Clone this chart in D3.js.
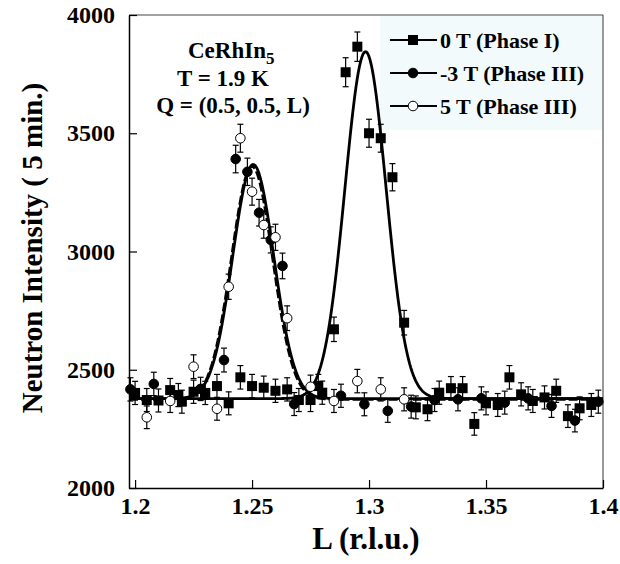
<!DOCTYPE html>
<html>
<head>
<meta charset="utf-8">
<script src="https://cdn.jsdelivr.net/npm/d3@7"></script>
<style>
  html, body { margin: 0; padding: 0; background: #fff; }
  svg text { font-family: "Liberation Serif", "Times New Roman", serif; font-weight: bold; }
</style>
</head>
<body>
<div id="chart"></div>
<script>
// 0 T (Phase I) - squares
const L0 = [1.200, 1.205, 1.210, 1.215, 1.2185, 1.220, 1.225, 1.230, 1.235, 1.240, 1.245, 1.250, 1.255, 1.260, 1.265, 1.270, 1.275, 1.2783, 1.280,
            1.285, 1.290, 1.295, 1.300, 1.305, 1.310, 1.315, 1.320, 1.325, 1.330, 1.335, 1.340, 1.345, 1.350, 1.355, 1.360,
            1.365, 1.370, 1.375, 1.380, 1.385, 1.390, 1.395];
const I0 = [2402, 2372, 2370, 2414, 2393, 2365, 2407, 2402, 2431, 2358, 2468, 2431, 2424, 2411, 2417, 2372, 2372, 2431, 2403,
            2671, 3758, 3866, 3500, 3479, 3314, 2699, 2341, 2333, 2403, 2422, 2422, 2271, 2358, 2351, 2468,
            2396, 2368, 2383, 2411, 2304, 2337, 2351];
// -3 T (Phase III) - filled circles
const L3 = [1.198, 1.208, 1.228, 1.238, 1.243, 1.248, 1.253, 1.258, 1.263, 1.268, 1.288, 1.298, 1.308, 1.318, 1.328,
            1.338, 1.348, 1.358, 1.368, 1.378, 1.388, 1.398];
const I3 = [2417, 2440, 2419, 2541, 3391, 3337, 3164, 3049, 2939, 2355, 2390, 2354, 2326, 2344, 2372,
            2375, 2379, 2361, 2379, 2347, 2285, 2365];
// 5 T (Phase III) - open circles
const L5 = [1.205, 1.215, 1.225, 1.235, 1.240, 1.245, 1.250, 1.255, 1.260, 1.265, 1.275, 1.285, 1.295, 1.305, 1.315];
const I5 = [2299, 2368, 2513, 2335, 2851, 3479, 3253, 3112, 3060, 2718, 2428, 2368, 2452, 2417, 2375];

// gaussian fits: 0 T, -3 T, 5 T
const fitCenter = [1.2985, 1.2505, 1.2500];
const fitHeight = [1467, 990, 985];
const fitSigma = [0.0088, 0.0088, 0.0088];
const fitBase = [2378, 2378, 2375];
const fitDash = [null, null, "9,3"];

const legendLabels = ["0 T (Phase I)", "-3 T (Phase III)", "5 T (Phase III)"];
const xTicks = [1.2, 1.25, 1.3, 1.35, 1.4];
const yTicks = [2000, 2500, 3000, 3500, 4000];

const width = 620, height = 564;
const margin = { top: 15, right: 17, bottom: 76, left: 129 };

const svg = d3.select("#chart")
    .append("svg")
    .attr("width", width)
    .attr("height", height);

const xScale = d3.scaleLinear()
    .domain([1.1974, 1.4])
    .range([margin.left, width - margin.right]);

const yScale = d3.scaleLinear()
    .domain([2000, 4000])
    .range([height - margin.bottom, margin.top]);

// legend background
svg.append("rect")
    .attr("x", 380).attr("y", margin.top + 1)
    .attr("width", width - margin.right - 381).attr("height", 114)
    .attr("fill", "#f3fafb");

// frame
svg.append("line")
    .attr("x1", margin.left).attr("x2", width - margin.right)
    .attr("y1", margin.top).attr("y2", margin.top)
    .attr("stroke", "#444").attr("stroke-width", 1.2);
svg.append("line")
    .attr("x1", width - margin.right).attr("x2", width - margin.right)
    .attr("y1", margin.top).attr("y2", height - margin.bottom)
    .attr("stroke", "#555").attr("stroke-width", 1.2);

// axes with inward ticks
const xAxis = svg.append("g")
    .attr("transform", `translate(0,${height - margin.bottom})`)
    .call(d3.axisBottom(xScale).tickValues(xTicks).tickSize(-8).tickSizeOuter(0).tickFormat(d3.format("")));
xAxis.select(".domain").attr("stroke-width", 1.5);
xAxis.selectAll(".tick line").attr("stroke-width", 1.2);
xAxis.selectAll(".tick text")
    .attr("y", 9)
    .style("font-size", "24px")
    .attr("fill", "#000");

const yAxis = svg.append("g")
    .attr("transform", `translate(${margin.left},0)`)
    .call(d3.axisLeft(yScale).tickValues(yTicks).tickSize(-8).tickSizeOuter(0).tickFormat(d3.format("d")));
yAxis.select(".domain").attr("stroke-width", 1.5);
yAxis.selectAll(".tick line").attr("stroke-width", 1.2);
yAxis.selectAll(".tick text")
    .attr("x", -14)
    .style("font-size", "24px")
    .attr("fill", "#000");

// axis titles
svg.append("text")
    .attr("x", 366)
    .attr("y", 549)
    .attr("text-anchor", "middle")
    .style("font-size", "31px")
    .text("L (r.l.u.)");

svg.append("text")
    .attr("transform", "rotate(-90)")
    .attr("x", -248)
    .attr("y", 42)
    .attr("text-anchor", "middle")
    .style("font-size", "29px")
    .text("Neutron Intensity ( 5 min.)");

// fit curves
const Lgrid = d3.range(1.1974, 1.4001, 0.0005);
const line = d3.line().x(d => xScale(d[0])).y(d => yScale(d[1]));
fitCenter.forEach((c, k) => {
    const pts = Lgrid.map(l => [l, fitBase[k] + fitHeight[k] * Math.exp(-0.5 * Math.pow((l - c) / fitSigma[k], 2))]);
    svg.append("path")
        .datum(pts)
        .attr("d", line)
        .attr("fill", "none")
        .attr("stroke", "#000")
        .attr("stroke-width", 2.8)
        .attr("stroke-dasharray", fitDash[k]);
});

// data points with counting error bars (sqrt N)
const series = [
    { L: L0, I: I0, shape: "square", fill: "#000" },
    { L: L3, I: I3, shape: "circle", fill: "#000" },
    { L: L5, I: I5, shape: "circle", fill: "#fff" }
];

series.forEach(s => {
    const pts = s.L.map((l, i) => ({ x: l, y: s.I[i], e: Math.sqrt(s.I[i]) }));
    const g = svg.append("g");
    const eb = g.selectAll(".eb").data(pts).enter().append("g")
        .attr("stroke", "#000").attr("stroke-width", 1.2);
    eb.append("line")
        .attr("x1", d => xScale(d.x)).attr("x2", d => xScale(d.x))
        .attr("y1", d => yScale(d.y - d.e)).attr("y2", d => yScale(d.y + d.e));
    eb.append("line")
        .attr("x1", d => xScale(d.x) - 3).attr("x2", d => xScale(d.x) + 3)
        .attr("y1", d => yScale(d.y + d.e)).attr("y2", d => yScale(d.y + d.e));
    eb.append("line")
        .attr("x1", d => xScale(d.x) - 3).attr("x2", d => xScale(d.x) + 3)
        .attr("y1", d => yScale(d.y - d.e)).attr("y2", d => yScale(d.y - d.e));

    if (s.shape === "square") {
        g.selectAll("rect").data(pts).enter().append("rect")
            .attr("x", d => xScale(d.x) - 5).attr("y", d => yScale(d.y) - 5)
            .attr("width", 10).attr("height", 10)
            .attr("fill", s.fill);
    } else {
        g.selectAll("circle").data(pts).enter().append("circle")
            .attr("cx", d => xScale(d.x)).attr("cy", d => yScale(d.y))
            .attr("r", 4.8)
            .attr("fill", s.fill)
            .attr("stroke", "#000").attr("stroke-width", 1);
    }
});

// legend
const legendY = [40, 73, 106];
legendLabels.forEach((t, k) => {
    const y = legendY[k];
    svg.append("line")
        .attr("x1", 390).attr("x2", 437).attr("y1", y).attr("y2", y)
        .attr("stroke", "#000").attr("stroke-width", 2);
    if (k === 0) {
        svg.append("rect").attr("x", 408).attr("y", y - 5).attr("width", 10).attr("height", 10).attr("fill", "#000");
    } else {
        svg.append("circle").attr("cx", 413).attr("cy", y).attr("r", 4.8)
            .attr("fill", k === 1 ? "#000" : "#fff").attr("stroke", "#000").attr("stroke-width", 1);
    }
    svg.append("text")
        .attr("x", 440).attr("y", y + 8)
        .style("font-size", "22px")
        .text(t);
});

// annotation
const note = svg.append("text")
    .attr("x", 188).attr("y", 58)
    .style("font-size", "23px");
note.append("tspan").text("CeRhIn");
note.append("tspan").attr("dy", 6).style("font-size", "17px").text("5");
svg.append("text")
    .attr("x", 223).attr("y", 86)
    .attr("text-anchor", "middle")
    .style("font-size", "23px")
    .text("T = 1.9 K");
svg.append("text")
    .attr("x", 233).attr("y", 113)
    .attr("text-anchor", "middle")
    .style("font-size", "23px")
    .text("Q = (0.5, 0.5, L)");
</script>
</body>
</html>
